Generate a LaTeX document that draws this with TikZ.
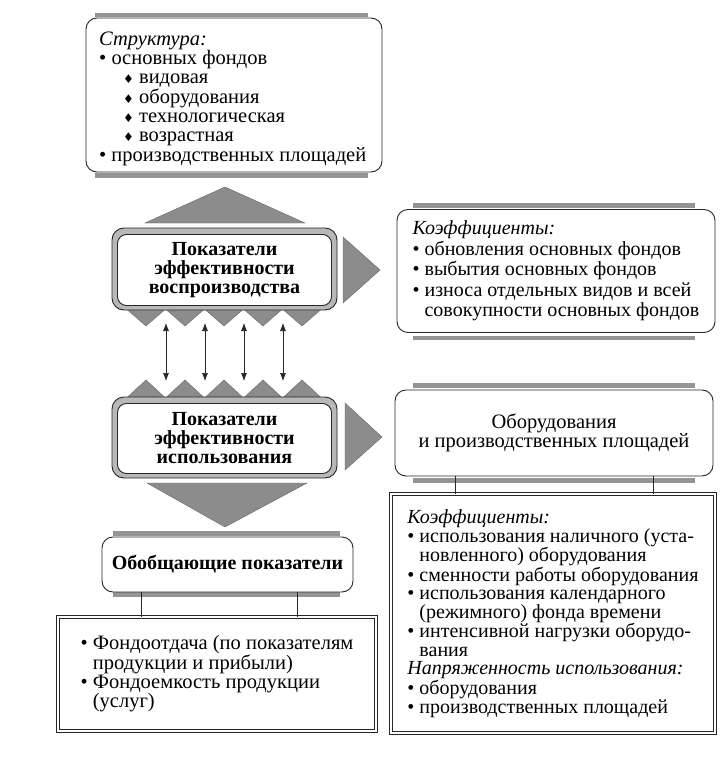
\documentclass[tikz,border=0pt]{standalone}
\usepackage{fontspec}
\setmainfont{Liberation Serif}
\newfontfamily\symf{DejaVu Sans}
\usetikzlibrary{arrows.meta}
\newcommand{\bul}{\textbullet\ }
\newcommand{\dia}{{\symf\fontsize{12}{12}\selectfont ♦}\ }
\newcommand{\ind}{\hspace*{24pt}}
\begin{document}
\begin{tikzpicture}[x=1pt,y=-1pt,
  every node/.style={font=\fontsize{20.5}{19.3}\selectfont},
  rbox/.style={draw=black!85, line width=0.9pt, rounded corners=11pt, fill=white, inner sep=0pt},
  gbar/.style={fill=black!42},
  gtri/.style={fill=black!45, draw=black!60, line width=0.4pt},
  frame/.style={draw=black!85, line width=0.9pt, fill=black!28, rounded corners=12pt},
  dbox/.style={draw=black!85, line width=0.8pt, double=white, double distance=2.4pt, inner sep=0pt},
  link/.style={draw=black!85, line width=0.7pt},
  dbl/.style={{Latex[length=8pt,width=6pt]}-{Latex[length=8pt,width=6pt]}, line width=0.7pt, draw=black!85},
  bold/.style={font=\fontsize{20}{19}\selectfont\bfseries}
]
\useasboundingbox (0,0) rectangle (723,757);
\fill[white] (0,0) rectangle (723,757);

% ---- top structure box
\fill[gbar] (95,13) rectangle (368,17.5);
\fill[gbar] (95,173) rectangle (368,178);
\node[rbox, minimum width=296pt, minimum height=154pt] (struct) at (234,95) {};
\node[anchor=north west, inner sep=0pt, align=left] (structtxt) at (99,31.5) {%
\textit{Структура:}\\
\bul основных фондов\\
\ind\dia видовая\\
\ind\dia оборудования\\
\ind\dia технологическая\\
\ind\dia возрастная\\
\bul производственных площадей};

% ---- up triangle
\filldraw[gtri] (145,223) -- (225,187) -- (305,223) -- cycle;

% ---- zigzags
\foreach \c in {146,185,224,263,302}{
  \filldraw[gtri] (\c-19.5,309) -- (\c,326) -- (\c+19.5,309) -- cycle;
  \filldraw[gtri] (\c-19.5,398) -- (\c,380) -- (\c+19.5,398) -- cycle;
}

% ---- reproduction box
\draw[frame] (112,228) rectangle (337,310);
\node[rbox, rounded corners=9pt, minimum width=214pt, minimum height=71pt, align=center, bold] (repr) at (224.5,270) {Показатели\\эффективности\\воспроизводства};
\filldraw[gtri] (343,237) -- (380,270) -- (343,303) -- cycle;

% ---- usage box
\draw[frame] (112,397) rectangle (337,478);
\node[rbox, rounded corners=9pt, minimum width=214pt, minimum height=70pt, align=center, bold] (usage) at (224.5,438.5) {Показатели\\эффективности\\использования};
\filldraw[gtri] (345,403) -- (382,437) -- (345,470) -- cycle;

% ---- double arrows
\foreach \i/\x in {1/166,2/205,3/244,4/283}{
  \coordinate (t\i) at (\x,323);
  \coordinate (b\i) at (\x,381);
  \draw[dbl] (t\i) -- (b\i);
}

% ---- down triangle
\filldraw[gtri] (147,483) -- (307,483) -- (225,527) -- cycle;

% ---- general indicators
\fill[gbar] (113,531) rectangle (340,536);
\fill[gbar] (113,592) rectangle (340,597);
\node[rbox, minimum width=251pt, minimum height=55pt, bold] (gen) at (227.5,564.5) {Обобщающие показатели};

\node[dbox, minimum width=318pt, minimum height=114pt, align=left] (list) at (217,674) {%
\bul Фондоотдача (по показателям\\
\phantom{\bul}продукции и прибыли)\\
\bul Фондоемкость продукции\\
\phantom{\bul}(услуг)};
\coordinate (c1) at (141,0);
\coordinate (c2) at (297,0);
\draw[link] (gen.south -| c1) -- (list.north -| c1);
\draw[link] (gen.south -| c2) -- (list.north -| c2);

% ---- right coefficients box
\fill[gbar] (413,203) rectangle (695,207.5);
\fill[gbar] (413,335.5) rectangle (695,340);
\node[rbox, minimum width=318pt, minimum height=123pt, align=left, font=\fontsize{20}{20.5}\selectfont] (koef) at (556,271) {%
\textit{Коэффициенты:}\\
\bul обновления основных фондов\\
\bul выбытия основных фондов\\
\bul износа отдельных видов и всей\\
\phantom{\bul}совокупности основных фондов};

% ---- right equipment box
\fill[gbar] (413,383) rectangle (695,388);
\fill[gbar] (413,478) rectangle (695,483);
\node[rbox, minimum width=318pt, minimum height=86pt, align=center] (obor) at (554,433) {Оборудования\\и производственных площадей};

\node[dbox, minimum width=324pt, minimum height=239pt, align=left, font=\fontsize{20}{18.5}\selectfont] (koef2) at (553,613.5) {%
\textit{Коэффициенты:}\\
\bul использования наличного (уста-\\
\phantom{\bul}новленного) оборудования\\
\bul сменности работы оборудования\\
\bul использования календарного\\
\phantom{\bul}(режимного) фонда времени\\
\bul интенсивной нагрузки оборудо-\\
\phantom{\bul}вания\\
\textit{Напряженность использования:}\\
\bul оборудования\\
\bul производственных площадей};
\coordinate (c3) at (455,0);
\coordinate (c4) at (653,0);
\draw[link] (obor.south -| c3) -- (koef2.north -| c3);
\draw[link] (obor.south -| c4) -- (koef2.north -| c4);
\end{tikzpicture}
\end{document}
